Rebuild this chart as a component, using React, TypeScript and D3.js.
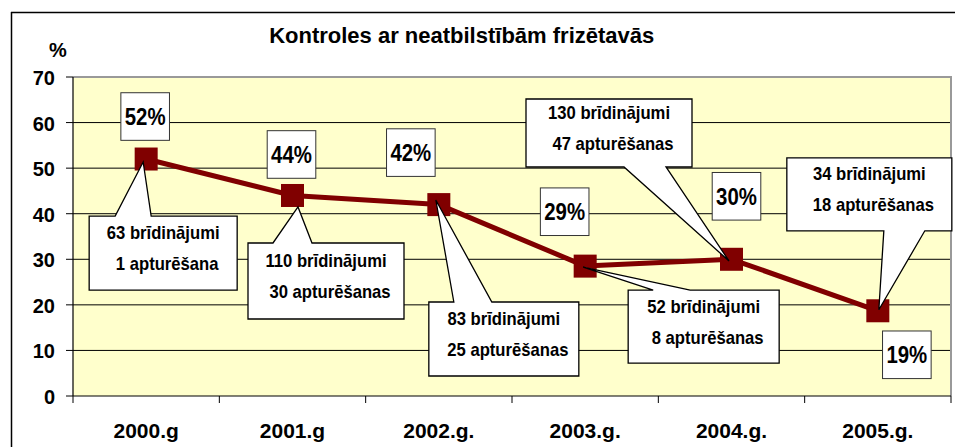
import { line, scaleBand, scaleLinear } from 'd3';

const years = ['2000.g', '2001.g', '2002.g.', '2003.g.', '2004.g.', '2005.g.'];
const shares = [52, 44, 42, 28.5, 30, 18.7];
const shareLabels = ['52%', '44%', '42%', '29%', '30%', '19%'];
const warnings = [63, 110, 83, 52, 130, 34];
const suspensions = [1, 30, 25, 8, 47, 18];
const yTicks = [0, 10, 20, 30, 40, 50, 60, 70];

const width = 955;
const height = 447;
const plot = { left: 73, right: 951, top: 77, bottom: 396 };

// hand placement of the annotations, relative to each point
const labelOffsets = [
  [-1, -42.5], [-1, -41], [-28, -52], [-20.5, -54.4], [5, -63], [29, 44],
];
// box dx, dy, w, h, wedge base x0, x1 (relative to point), tip dx, dy, side
const callouts: [number, number, number, number, number, number, number, number, 'top' | 'bottom'][] = [
  [-57, 57, 148, 74, -31, 5, -3, 3, 'top'],
  [-44.5, 47.5, 156, 76, -19.5, 19.5, 5.5, 11.5, 'top'],
  [-10, 97.4, 150, 74, 15, 53, -3, -4.6, 'top'],
  [43, 24, 151, 73, 68, 105, -2, 1, 'top'],
  [-205.5, -160.3, 166, 68, -107.5, -65.5, -2.5, 1.7, 'bottom'],
  [-91, -153, 165, 73, 6, 47, 1, -1, 'bottom'],
];

const sans = '"Liberation Sans", Arial, sans-serif';

// narrow bold text: regular bold squeezed horizontally
function Narrow({ x, y, size, squeeze, children }: { x: number; y: number; size: number; squeeze: number; children: React.ReactNode }) {
  return (
    <text transform={`translate(${x},${y}) scale(${squeeze},1)`} textAnchor="middle" fontFamily={sans} fontWeight="bold" fontSize={size}>
      {children}
    </text>
  );
}

export default function App() {
  const xScale = scaleBand<string>().domain(years).range([plot.left, plot.right]);
  const yScale = scaleLinear().domain([0, 70]).range([plot.bottom, plot.top]);
  const cx = (i: number) => (xScale(years[i]) ?? 0) + xScale.bandwidth() / 2;
  const cy = (i: number) => yScale(shares[i]);

  const path = line<number>()
    .x((_, i) => cx(i))
    .y(d => yScale(d))(shares);

  const boundaries = [...years.map(y => xScale(y) ?? 0), plot.right];

  return (
    <svg width={width} height={height} style={{ position: 'absolute', left: 0, top: 0, background: '#fff' }}>
      <line x1={11} x2={width} y1={12.5} y2={12.5} stroke="#000" strokeWidth={1.5} />
      <line x1={11.5} x2={11.5} y1={12} y2={height} stroke="#000" strokeWidth={1.5} />

      <text x={461.7} y={42.7} textAnchor="middle" fontFamily={sans} fontWeight="bold" fontSize={22}>
        Kontroles ar neatbilstībām frizētavās
      </text>
      <text x={58} y={57} textAnchor="middle" fontFamily={sans} fontWeight="bold" fontSize={20}>%</text>

      <rect x={plot.left} y={plot.top} width={plot.right - plot.left} height={plot.bottom - plot.top} fill="#ffffcc" />
      {yTicks.filter(t => t > 0 && t < 70).map(t => (
        <line key={t} x1={plot.left} x2={plot.right} y1={yScale(t)} y2={yScale(t)} stroke="#000" strokeWidth={1} />
      ))}
      <path d={`M${plot.left},${plot.top}H${plot.right}V${plot.bottom}`} fill="none" stroke="#999" strokeWidth={2} />
      <line x1={plot.left} x2={plot.left} y1={plot.top} y2={plot.bottom} stroke="#000" strokeWidth={1.2} />
      <line x1={plot.left} x2={plot.right} y1={plot.bottom} y2={plot.bottom} stroke="#000" strokeWidth={1.2} />

      {yTicks.map(t => (
        <g key={t}>
          <line x1={66} x2={plot.left} y1={yScale(t)} y2={yScale(t)} stroke="#000" />
          <text x={55} y={yScale(t) + 8} textAnchor="end" fontFamily={sans} fontWeight="bold" fontSize={20}>{t}</text>
        </g>
      ))}
      {boundaries.map((b, i) => (
        <line key={i} x1={b} x2={b} y1={plot.bottom} y2={plot.bottom + 7} stroke="#000" />
      ))}
      {years.map((y, i) => (
        <text key={y} x={cx(i)} y={438} textAnchor="middle" fontFamily={sans} fontWeight="bold" fontSize={21}>{y}</text>
      ))}

      {path && <path d={path} fill="none" stroke="#800000" strokeWidth={5} strokeLinejoin="round" />}
      {shares.map((s, i) => (
        <rect key={i} x={cx(i) - 11.5} y={cy(i) - 11.5} width={23} height={23} fill="#800000" />
      ))}

      {callouts.map(([dx, dy, w, h, b0, b1, tx, ty, side], i) => {
        const px = cx(i);
        const py = cy(i);
        const x0 = px + dx;
        const y0 = py + dy;
        const x1 = x0 + w;
        const y1 = y0 + h;
        const tip = `${px + tx},${py + ty}`;
        const d = side === 'top'
          ? `M${x0},${y0}H${px + b0}L${tip}L${px + b1},${y0}H${x1}V${y1}H${x0}Z`
          : `M${x0},${y0}H${x1}V${y1}H${px + b1}L${tip}L${px + b0},${y1}H${x0}Z`;
        const mid = x0 + w / 2;
        const base = y0 + h / 2 - 14;
        return (
          <g key={i}>
            <path d={d} fill="#fff" stroke="#000" strokeWidth={1.3} strokeLinejoin="miter" />
            <Narrow x={mid} y={base} size={18.5} squeeze={0.9}>
              {warnings[i]} brīdinājumi
            </Narrow>
            <Narrow x={mid + 4} y={base + 31} size={18.5} squeeze={0.9}>
              {suspensions[i]} {suspensions[i] === 1 ? 'apturēšana' : 'apturēšanas'}
            </Narrow>
          </g>
        );
      })}

      {shareLabels.map((label, i) => {
        const [ox, oy] = labelOffsets[i];
        const x = cx(i) + ox;
        const y = cy(i) + oy;
        return (
          <g key={label}>
            <rect x={x - 24.3} y={y - 23.8} width={48.6} height={47.6} fill="#fff" stroke="#333" strokeWidth={1} />
            <Narrow x={x} y={y + 8.5} size={24} squeeze={0.85}>{label}</Narrow>
          </g>
        );
      })}
    </svg>
  );
}
